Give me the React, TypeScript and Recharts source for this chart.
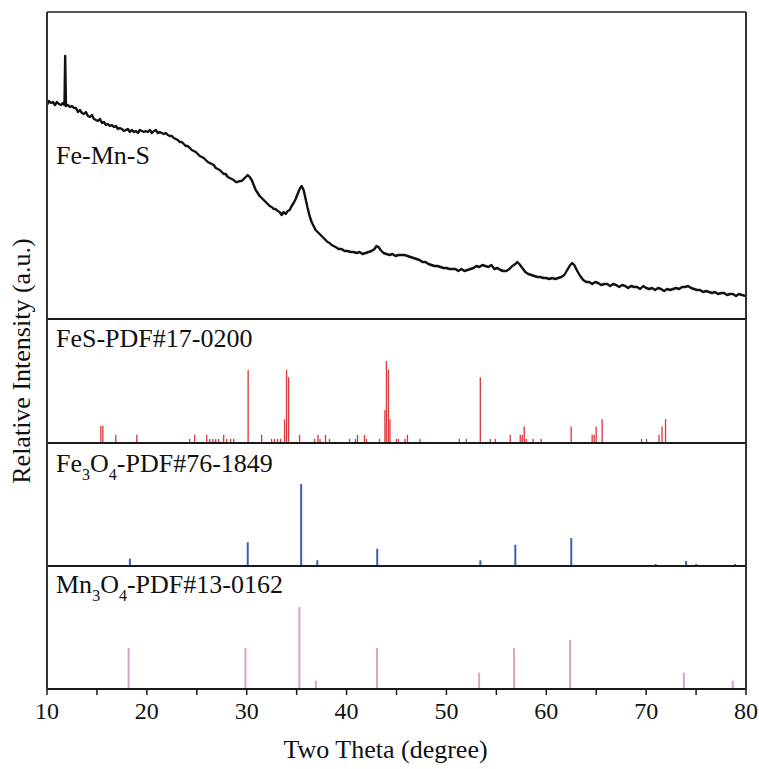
import React from 'react';
import { ComposedChart, Line, Bar, XAxis, YAxis, Label } from 'recharts';

// ---------- Data ----------
// Fe-Mn-S measured pattern: 2θ (degree) and relative intensity (a.u.)
const thetaFeMnS = [
  10.0, 10.2, 10.4, 10.6, 10.8, 11.0, 11.2, 11.4, 11.6, 11.75, 11.82, 11.9, 12.1, 12.3, 12.5, 12.7, 12.9,
  13.1, 13.3, 13.5, 13.7, 13.9, 14.1, 14.3, 14.5, 14.7, 14.9, 15.1, 15.3, 15.5, 15.7, 15.9, 16.1, 16.3,
  16.5, 16.7, 16.9, 17.1, 17.3, 17.5, 17.7, 17.9, 18.1, 18.3, 18.5, 18.7, 18.9, 19.1, 19.3, 19.5, 19.7,
  19.9, 20.1, 20.3, 20.5, 20.7, 20.9, 21.1, 21.3, 21.5, 21.7, 21.9, 22.1, 22.3, 22.5, 22.7, 22.9, 23.1,
  23.3, 23.5, 23.7, 23.9, 24.1, 24.3, 24.5, 24.7, 24.9, 25.1, 25.3, 25.5, 25.7, 25.9, 26.1, 26.3, 26.5,
  26.7, 26.9, 27.1, 27.3, 27.5, 27.7, 27.9, 28.1, 28.3, 28.5, 28.7, 28.9, 29.1, 29.3, 29.5, 29.7, 29.9,
  30.1, 30.3, 30.5, 30.7, 30.9, 31.1, 31.3, 31.5, 31.7, 31.9, 32.1, 32.3, 32.5, 32.7, 32.9, 33.1, 33.3,
  33.5, 33.7, 33.9, 34.1, 34.3, 34.5, 34.7, 34.9, 35.1, 35.3, 35.5, 35.7, 35.9, 36.1, 36.3, 36.5, 36.7,
  36.9, 37.1, 37.3, 37.5, 37.7, 37.9, 38.1, 38.3, 38.5, 38.7, 38.9, 39.2, 39.5, 39.8, 40.1, 40.4, 40.7,
  41.0, 41.3, 41.6, 41.9, 42.2, 42.5, 42.8, 43.0, 43.2, 43.4, 43.7, 44.0, 44.3, 44.6, 44.9, 45.2, 45.5,
  45.8, 46.1, 46.4, 46.7, 47.0, 47.3, 47.6, 47.9, 48.2, 48.5, 48.8, 49.1, 49.4, 49.7, 50.0, 50.3, 50.6,
  50.9, 51.2, 51.5, 51.8, 52.1, 52.4, 52.7, 53.0, 53.3, 53.6, 53.9, 54.2, 54.5, 54.8, 55.1, 55.4, 55.7,
  56.0, 56.3, 56.6, 56.9, 57.1, 57.3, 57.6, 57.9, 58.2, 58.5, 58.8, 59.1, 59.4, 59.7, 60.0, 60.3, 60.6,
  60.9, 61.2, 61.5, 61.8, 62.1, 62.4, 62.6, 62.8, 63.1, 63.4, 63.7, 64.0, 64.3, 64.6, 64.9, 65.2, 65.5,
  65.8, 66.1, 66.4, 66.7, 67.0, 67.3, 67.6, 67.9, 68.2, 68.5, 68.8, 69.1, 69.4, 69.7, 70.0, 70.3, 70.6,
  70.9, 71.2, 71.5, 71.8, 72.1, 72.4, 72.7, 73.0, 73.3, 73.6, 73.9, 74.2, 74.5, 74.8, 75.1, 75.4, 75.7,
  76.0, 76.3, 76.6, 76.9, 77.2, 77.5, 77.8, 78.1, 78.4, 78.7, 79.0, 79.3, 79.6, 80.0,
];
const intensityFeMnS = [
  214, 218, 216, 217, 214, 217, 215, 214, 216, 214, 263, 213, 214, 212, 213, 211, 211,
  207, 209, 206, 205, 207, 203, 202, 204, 200, 199, 198, 200, 196, 197, 194, 195, 193,
  194, 192, 193, 190, 191, 190, 188, 189, 190, 187, 189, 187, 188, 186, 189, 188, 187,
  188, 187, 189, 186, 188, 189, 186, 187, 186, 185, 186, 184, 183, 183, 181, 180, 179,
  177, 177, 175, 173, 173, 171, 169, 168, 167, 165, 163, 162, 161, 159, 157, 156, 155,
  154, 151, 150, 149, 147, 145, 145, 142, 141, 140, 139, 137, 137, 138, 138, 140, 142,
  144, 142, 139, 134, 129, 126, 123, 121, 119, 117, 115, 113, 112, 110, 110, 108, 107,
  104, 107, 105, 108, 109, 113, 116, 120, 125, 130, 133, 129, 120, 111, 103, 97, 93,
  89, 87, 85, 83, 81, 79, 77, 76, 74, 73, 72, 70, 70, 68, 68, 67, 67,
  66, 67, 65, 66, 67, 68, 70, 73, 72, 69, 66, 65, 64, 65, 63, 64, 64,
  64, 63, 62, 61, 60, 59, 57, 57, 55, 54, 53, 53, 52, 51, 51, 50, 50,
  50, 48, 50, 48, 49, 50, 51, 53, 52, 54, 53, 52, 54, 50, 51, 49, 48,
  48, 50, 53, 55, 57, 55, 51, 47, 45, 44, 43, 42, 42, 41, 41, 40, 41,
  40, 41, 42, 44, 49, 54, 56, 54, 48, 43, 39, 37, 37, 35, 37, 36, 34,
  35, 35, 33, 35, 34, 32, 34, 33, 31, 33, 32, 32, 30, 33, 31, 30, 31,
  29, 31, 30, 28, 30, 29, 30, 31, 30, 32, 32, 33, 31, 30, 29, 29, 27,
  28, 27, 26, 27, 25, 26, 26, 24, 25, 25, 23, 25, 24, 23,
];

// FeS reference, PDF#17-0200 (relative intensity, %)
const thetaFeS = [
  15.4, 15.6, 16.9, 19.0, 24.3, 24.8, 26.0, 26.3, 26.6, 26.9, 27.2, 27.7, 28.0, 28.4, 28.7, 30.15,
  31.5, 32.5, 32.8, 33.1, 33.4, 33.8, 34.0, 34.2, 35.3, 36.8, 37.15, 37.35, 37.9, 38.3, 40.3, 40.9,
  41.1, 41.8, 42.0, 43.3, 43.85, 44.0, 44.2, 44.35, 45.0, 45.2, 45.85, 46.1, 47.35, 51.3, 52.0, 53.4,
  54.4, 54.9, 56.4, 57.4, 57.6, 57.8, 58.0, 58.7, 59.5, 62.5, 64.6, 64.8, 65.0, 65.6, 69.55, 70.05,
  71.3, 71.6, 71.95,
];
const intensityFeS = [
  21, 21, 10, 10, 5, 10, 10, 5, 5, 5, 5, 10, 5, 5, 5, 89,
  10, 5, 5, 5, 5, 29, 89, 80, 10, 5, 10, 5, 10, 5, 5, 5,
  10, 10, 5, 5, 40, 100, 89, 29, 5, 5, 5, 10, 5, 5, 5, 80,
  5, 5, 10, 10, 10, 20, 5, 5, 5, 20, 10, 10, 20, 29, 5, 5,
  10, 20, 29,
];

// Fe3O4 reference, PDF#76-1849
const thetaFe3O4 = [18.3, 30.1, 35.45, 37.07, 43.07, 53.4, 56.9, 62.5, 70.95, 74.0, 75.0, 78.9];
const intensityFe3O4 = [9, 29, 100, 7, 21, 7, 26, 34, 2.5, 6, 2.5, 2.5];

// Mn3O4 reference, PDF#13-0162
const thetaMn3O4 = [18.2, 29.9, 35.3, 36.95, 43.07, 53.3, 56.8, 62.4, 73.8, 78.7];
const intensityMn3O4 = [50, 50, 100, 10, 50, 20, 50, 60, 20, 10];

// Axis ticks
const xTicks = [10, 15, 20, 25, 30, 35, 40, 45, 50, 55, 60, 65, 70, 75, 80];
const xLabeledTicks = [10, 20, 30, 40, 50, 60, 70, 80];

// ---------- Tables built from the arrays ----------
const dataFeMnS = thetaFeMnS.map((t, i) => ({ t, v: intensityFeMnS[i] }));
const dataFeS = thetaFeS.map((t, i) => ({ t, v: intensityFeS[i] }));
const dataFe3O4 = thetaFe3O4.map((t, i) => ({ t, v: intensityFe3O4[i] }));
const dataMn3O4 = thetaMn3O4.map((t, i) => ({ t, v: intensityMn3O4[i] }));

// ---------- Styling ----------
const FONT = '"Liberation Serif", "Times New Roman", Times, serif';
const W = 759;
const PLOT_L = 47;
const PLOT_R = 746;
const PAD = 4;
const FRAME = { stroke: '#1a1a1a', strokeWidth: 2 };
const SIDEFRAME = { stroke: '#333', strokeWidth: 2 };
const TOPFRAME = { stroke: '#555', strokeWidth: 2 };

type Seg = { text: string; sub?: boolean };

const panelLabel = (parts: Seg[], dy: number) => (props: any) => {
  const vb = props.viewBox || { x: PLOT_L - 1, y: 0, width: 1 };
  let prevSub = false;
  return (
    <text
      x={vb.x + (vb.width || 0) + 9}
      y={vb.y + dy}
      fontSize={26}
      fontFamily={FONT}
      fill="#111"
    >
      {parts.map((p, i) => {
        const d = p.sub ? 8 : prevSub ? -8 : 0;
        prevSub = !!p.sub;
        return (
          <tspan key={i} dy={d} fontSize={p.sub ? 16 : 26}>
            {p.text}
          </tspan>
        );
      })}
    </text>
  );
};

const xTitle = (props: any) => {
  const vb = props.viewBox;
  return (
    <text
      x={vb.x + vb.width / 2 - 11}
      y={vb.y + 69}
      textAnchor="middle"
      fontSize={26}
      fontFamily={FONT}
      fill="#111"
    >
      Two Theta (degree)
    </text>
  );
};

// margins so that each axis (1px thick band) sits on the plot edge
const marginFor = (bottomAxisHeight: number) => ({
  top: PAD - 1,
  right: W - PLOT_R - 1,
  bottom: bottomAxisHeight === 1 ? PAD - 1 : 0,
  left: PLOT_L - 1,
});

const frameAxes = (yMax: number, withTop: boolean, withBottom: boolean) => {
  const items: any[] = [];
  if (withBottom) {
    items.push(
      <XAxis
        key="xb"
        dataKey="t"
        type="number"
        domain={[10, 80]}
        ticks={xTicks}
        allowDataOverflow
        tick={false}
        tickLine={false}
        axisLine={FRAME}
        height={1}
      />
    );
  }
  items.push(
    <XAxis
      key="xt"
      xAxisId="top"
      orientation="top"
      type="number"
      domain={[10, 80]}
      allowDataOverflow
      tick={false}
      tickLine={false}
      axisLine={withTop ? TOPFRAME : FRAME}
      height={1}
    />
  );
  items.push(
    <YAxis
      key="yr"
      yAxisId="right"
      orientation="right"
      type="number"
      domain={[0, yMax]}
      allowDataOverflow
      tick={false}
      tickLine={false}
      axisLine={SIDEFRAME}
      width={1}
    />
  );
  return items;
};

export default function App() {
  return (
    <div
      style={{
        position: 'absolute',
        left: 0,
        top: 0,
        width: W,
        height: 769,
        background: '#fff',
        overflow: 'hidden',
      }}
    >
      {/* Panel 1: Fe-Mn-S */}
      <div style={{ position: 'absolute', left: 0, top: 12 - PAD }}>
        <ComposedChart width={W} height={307 + 2 * PAD} data={dataFeMnS} margin={marginFor(1)}>
          {frameAxes(307, true, true)}
          <YAxis
            type="number"
            domain={[0, 307]}
            allowDataOverflow
            tick={false}
            tickLine={false}
            axisLine={SIDEFRAME}
            width={1}
          >
            <Label content={panelLabel([{ text: 'Fe-Mn-S' }], 152)} />
          </YAxis>
          <Line
            type="linear"
            dataKey="v"
            stroke="#111"
            strokeWidth={2.4}
            strokeLinejoin="round"
            dot={false}
            isAnimationActive={false}
          />
        </ComposedChart>
      </div>

      {/* Panel 2: FeS */}
      <div style={{ position: 'absolute', left: 0, top: 319 - PAD }}>
        <ComposedChart width={W} height={124 + 2 * PAD} data={dataFeS} margin={marginFor(1)}>
          {frameAxes(151, false, true)}
          <YAxis
            type="number"
            domain={[0, 151]}
            allowDataOverflow
            tick={false}
            tickLine={false}
            axisLine={SIDEFRAME}
            width={1}
          >
            <Label content={panelLabel([{ text: 'FeS-PDF#17-0200' }], 28)} />
          </YAxis>
          <Bar dataKey="v" fill="#dd3a40" barSize={2} isAnimationActive={false} />
        </ComposedChart>
      </div>

      {/* Panel 3: Fe3O4 */}
      <div style={{ position: 'absolute', left: 0, top: 443 - PAD }}>
        <ComposedChart width={W} height={123 + 2 * PAD} data={dataFe3O4} margin={marginFor(1)}>
          {frameAxes(150, false, true)}
          <YAxis
            type="number"
            domain={[0, 150]}
            allowDataOverflow
            tick={false}
            tickLine={false}
            axisLine={SIDEFRAME}
            width={1}
          >
            <Label
              content={panelLabel(
                [
                  { text: 'Fe' },
                  { text: '3', sub: true },
                  { text: 'O' },
                  { text: '4', sub: true },
                  { text: '-PDF#76-1849' },
                ],
                29
              )}
            />
          </YAxis>
          <Bar dataKey="v" fill="#3d60a6" barSize={2} isAnimationActive={false} />
        </ComposedChart>
      </div>

      {/* Panel 4: Mn3O4 with the shared x axis */}
      <div style={{ position: 'absolute', left: 0, top: 566 - PAD }}>
        <ComposedChart width={W} height={123 + PAD + 80} data={dataMn3O4} margin={marginFor(80)}>
          <XAxis
            dataKey="t"
            type="number"
            domain={[10, 80]}
            ticks={xTicks}
            allowDataOverflow
            interval={0}
            tickFormatter={(v: number) => (xLabeledTicks.includes(v) ? String(v) : '')}
            tick={{ fontSize: 24, fill: '#111', fontFamily: FONT }}
            tickLine={{ stroke: '#1a1a1a', strokeWidth: 1.5 }}
            tickSize={6}
            tickMargin={7}
            axisLine={FRAME}
            height={80}
          >
            <Label content={xTitle} />
          </XAxis>
          {frameAxes(150, false, false)}
          <YAxis
            type="number"
            domain={[0, 150]}
            allowDataOverflow
            tick={false}
            tickLine={false}
            axisLine={SIDEFRAME}
            width={1}
          >
            <Label
              content={panelLabel(
                [
                  { text: 'Mn' },
                  { text: '3', sub: true },
                  { text: 'O' },
                  { text: '4', sub: true },
                  { text: '-PDF#13-0162' },
                ],
                27
              )}
            />
          </YAxis>
          <Bar dataKey="v" fill="#d9a2cc" barSize={2} isAnimationActive={false} />
        </ComposedChart>
      </div>

      {/* Shared y-axis title */}
      <svg
        width={50}
        height={769}
        style={{ position: 'absolute', left: 0, top: 0, pointerEvents: 'none' }}
      >
        <text
          transform="translate(30,361) rotate(-90)"
          textAnchor="middle"
          fontSize={26}
          fontFamily={FONT}
          fill="#111"
        >
          Relative Intensity (a.u.)
        </text>
      </svg>
    </div>
  );
}
